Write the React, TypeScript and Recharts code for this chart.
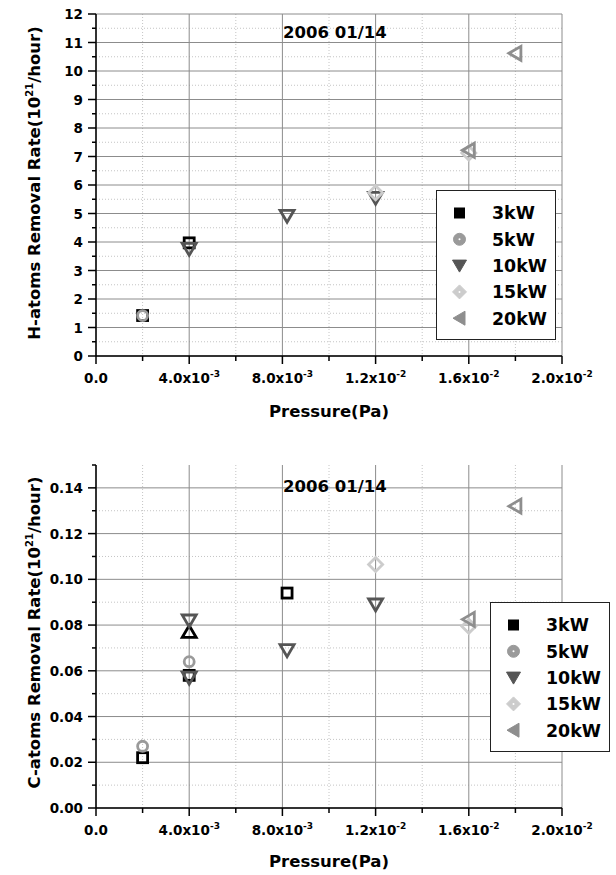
import React from 'react';
import { ScatterChart, Scatter, XAxis, YAxis, CartesianGrid, Legend } from 'recharts';

const FONT = '"DejaVu Sans", "Liberation Sans", sans-serif';

// pressure axis (Pa)
const xTicks = [0, 0.002, 0.004, 0.006, 0.008, 0.01, 0.012, 0.014, 0.016, 0.018, 0.02];
const xMajor = [0, 0.004, 0.008, 0.012, 0.016, 0.02];
const xMinor = [0.002, 0.006, 0.01, 0.014, 0.018];
const xTickMantissa = ['0.0', '4.0x10', '8.0x10', '1.2x10', '1.6x10', '2.0x10'];
const xTickExponent = ['', '-3', '-3', '-2', '-2', '-2'];

// H-atoms panel axis
const hYTicks = [0, 0.5, 1, 1.5, 2, 2.5, 3, 3.5, 4, 4.5, 5, 5.5, 6, 6.5, 7, 7.5, 8, 8.5, 9, 9.5, 10, 10.5, 11, 11.5, 12];
const hYMajor = [0, 1, 2, 3, 4, 5, 6, 7, 8, 9, 10, 11, 12];
const hYMinor = [0.5, 1.5, 2.5, 3.5, 4.5, 5.5, 6.5, 7.5, 8.5, 9.5, 10.5, 11.5];
const hYLabels = ['0', '1', '2', '3', '4', '5', '6', '7', '8', '9', '10', '11', '12'];

// C-atoms panel axis
const cYTicks = [0, 0.01, 0.02, 0.03, 0.04, 0.05, 0.06, 0.07, 0.08, 0.09, 0.1, 0.11, 0.12, 0.13, 0.14, 0.15];
const cYMajor = [0, 0.02, 0.04, 0.06, 0.08, 0.1, 0.12, 0.14];
const cYMinor = [0.01, 0.03, 0.05, 0.07, 0.09, 0.11, 0.13];
const cYLabels = ['0.00', '0.02', '0.04', '0.06', '0.08', '0.10', '0.12', '0.14'];

const powers = ['3kW', '5kW', '10kW', '15kW', '20kW'];
const colors = ['#000000', '#9a9a9a', '#555555', '#cccccc', '#8e8e8e'];
const shapes = ['square', 'circle', 'down', 'diamond', 'left'];

// H-atoms removal rate (10^21/hour)
const h3kWP = [0.002, 0.004];
const h3kWR = [1.42, 3.97];
const h5kWP = [0.002];
const h5kWR = [1.42];
const h10kWP = [0.004, 0.0082, 0.012];
const h10kWR = [3.76, 4.92, 5.55];
const h15kWP = [0.012, 0.016];
const h15kWR = [5.73, 7.12];
const h20kWP = [0.016, 0.018];
const h20kWR = [7.22, 10.62];

// C-atoms removal rate (10^21/hour)
const c3kWP = [0.002, 0.004, 0.0082];
const c3kWR = [0.022, 0.058, 0.094];
const c3kWExtraP = [0.004];
const c3kWExtraR = [0.077];
const c5kWP = [0.002, 0.004];
const c5kWR = [0.027, 0.064];
const c10kWP = [0.004, 0.004, 0.0082, 0.012];
const c10kWR = [0.082, 0.057, 0.069, 0.089];
const c15kWP = [0.012, 0.016];
const c15kWR = [0.1065, 0.0795];
const c20kWP = [0.016, 0.018];
const c20kWR = [0.0825, 0.132];

const pts = (p: number[], r: number[]) => p.map((x, i) => ({ x, y: r[i] }));

const hSeries = [
  { idx: 0, data: pts(h3kWP, h3kWR) },
  { idx: 1, data: pts(h5kWP, h5kWR) },
  { idx: 2, data: pts(h10kWP, h10kWR) },
  { idx: 3, data: pts(h15kWP, h15kWR) },
  { idx: 4, data: pts(h20kWP, h20kWR) },
];

const cSeries = [
  { idx: 0, data: pts(c3kWP, c3kWR) },
  { idx: 0, data: pts(c3kWExtraP, c3kWExtraR), shape: 'up' },
  { idx: 1, data: pts(c5kWP, c5kWR) },
  { idx: 2, data: pts(c10kWP, c10kWR) },
  { idx: 3, data: pts(c15kWP, c15kWR) },
  { idx: 4, data: pts(c20kWP, c20kWR) },
];

const near = (a: number, b: number) => Math.abs(a - b) < 1e-9;

function Marker({ kind, cx, cy, color, filled }: any) {
  const common = {
    stroke: color,
    strokeWidth: filled ? 1 : 2.8,
    fill: filled ? color : 'none',
    strokeLinejoin: 'miter' as const,
  };
  let el;
  if (kind === 'square') el = <rect x={cx - 5} y={cy - 5} width={10} height={10} {...common} />;
  else if (kind === 'circle') el = <circle cx={cx} cy={cy} r={filled ? 6 : 5} {...common} />;
  else if (kind === 'down')
    el = <polygon points={`${cx - 7},${cy - 5.5} ${cx + 7},${cy - 5.5} ${cx},${cy + 6.5}`} {...common} />;
  else if (kind === 'up')
    el = <polygon points={`${cx - 7},${cy + 5.5} ${cx + 7},${cy + 5.5} ${cx},${cy - 6.5}`} {...common} />;
  else if (kind === 'diamond')
    el = <polygon points={`${cx},${cy - 7} ${cx + 7},${cy} ${cx},${cy + 7} ${cx - 7},${cy}`} {...common} />;
  else el = <polygon points={`${cx - 6.5},${cy} ${cx + 5.5},${cy - 7} ${cx + 5.5},${cy + 7}`} {...common} />;
  return (
    <g>
      {el}
      {filled && (kind === 'circle' || kind === 'diamond') && <circle cx={cx} cy={cy} r={1} fill="#fff" />}
    </g>
  );
}

const textStyle = { fontFamily: FONT, fontWeight: 'bold' as const, fill: '#000' };

const BottomTick = (props: any) => {
  const { x, y, payload } = props;
  const i = xMajor.findIndex((m) => near(m, payload.value));
  const major = i >= 0;
  return (
    <g>
      <line x1={x} x2={x} y1={y} y2={y + (major ? 8 : 5)} stroke="#000" strokeWidth={1.5} />
      {major && (
        <text x={x} y={y + 27} textAnchor="middle" fontSize={13.5} {...textStyle}>
          {xTickMantissa[i]}
          {xTickExponent[i] && (
            <tspan dy={-6} fontSize={9}>
              {xTickExponent[i]}
            </tspan>
          )}
        </text>
      )}
    </g>
  );
};

const TopTick = (props: any) => {
  const { x, y, payload } = props;
  const major = xMajor.some((m) => near(m, payload.value));
  return <line x1={x} x2={x} y1={y} y2={y + (major ? 8 : 4)} stroke="#000" strokeWidth={1.5} />;
};

const makeLeftTick = (major: number[], labels: string[]) => (props: any) => {
  const { x, y, payload } = props;
  const i = major.findIndex((m) => near(m, payload.value));
  const isMajor = i >= 0;
  return (
    <g>
      <line x1={x - (isMajor ? 8 : 4)} x2={x} y1={y} y2={y} stroke="#000" strokeWidth={1.5} />
      {isMajor && (
        <text x={x - 13} y={y + 5} textAnchor="end" fontSize={13.5} {...textStyle}>
          {labels[i]}
        </text>
      )}
    </g>
  );
};

const makeRightTick = (major: number[]) => (props: any) => {
  const { x, y, payload } = props;
  const isMajor = major.some((m) => near(m, payload.value));
  return <line x1={x - (isMajor ? 8 : 4)} x2={x} y1={y} y2={y} stroke="#000" strokeWidth={1.5} />;
};

function LegendBox() {
  return (
    <svg width={120} height={150} style={{ display: 'block' }}>
      <rect x={0.5} y={0.5} width={119} height={149} fill="#fff" stroke="#222" strokeWidth={1} />
      {powers.map((p, i) => {
        const cy = 23 + i * 26.3;
        return (
          <g key={p}>
            <Marker kind={shapes[i]} cx={23.5} cy={cy} color={colors[i]} filled />
            <text x={56} y={cy + 6.3} fontSize={17.4} {...textStyle}>
              {p}
            </text>
          </g>
        );
      })}
    </svg>
  );
}

interface PanelProps {
  top: number;
  height: number;
  plotTop: number;
  plotBottom: number;
  yDomain: [number, number];
  yTicks: number[];
  yMajor: number[];
  yMinor: number[];
  yLabels: string[];
  yTitle: string;
  series: { idx: number; data: { x: number; y: number }[]; shape?: string }[];
  titleOffset: number;
  xTitleOffset: number;
  yTitleShift: number;
  legendLeft: number;
  legendTop: number;
}

function Panel(p: PanelProps) {
  const axisLine = { stroke: '#000', strokeWidth: 1.5 };
  return (
    <div style={{ position: 'absolute', left: 0, top: p.top }}>
      <ScatterChart width={616} height={p.height} margin={{ top: p.plotTop, right: 54, bottom: 0, left: 0 }}>
        <CartesianGrid
          horizontalValues={p.yMinor}
          verticalValues={xMinor}
          stroke="#c4c4c4"
          strokeDasharray="1 2"
        />
        <CartesianGrid horizontalValues={p.yMajor} verticalValues={xMajor} stroke="#8c8c8c" />
        <XAxis
          dataKey="x"
          type="number"
          domain={[0, 0.02]}
          ticks={xTicks}
          interval={0}
          height={p.height - p.plotBottom}
          tickSize={0}
          tickMargin={0}
          tickLine={false}
          tick={BottomTick}
          axisLine={axisLine}
          label={{
            content: (lp: any) => {
              const vb = lp.viewBox;
              return (
                <text x={vb.x + vb.width / 2} y={vb.y + p.xTitleOffset} textAnchor="middle" fontSize={16.5} {...textStyle}>
                  Pressure(Pa)
                </text>
              );
            },
          }}
        />
        <XAxis
          xAxisId="top"
          dataKey="x"
          orientation="top"
          type="number"
          domain={[0, 0.02]}
          ticks={xTicks}
          interval={0}
          height={0}
          tickSize={0}
          tickMargin={0}
          tickLine={false}
          tick={TopTick}
          axisLine={axisLine}
        />
        <YAxis
          dataKey="y"
          type="number"
          domain={p.yDomain}
          ticks={p.yTicks}
          interval={0}
          width={96}
          tickSize={0}
          tickMargin={0}
          tickLine={false}
          tick={makeLeftTick(p.yMajor, p.yLabels)}
          axisLine={axisLine}
          label={{
            content: (lp: any) => {
              const vb = lp.viewBox;
              const cx = 40;
              const cy = vb.y + vb.height / 2 + p.yTitleShift;
              return (
                <g>
                  <text
                    x={cx}
                    y={cy}
                    transform={`rotate(-90 ${cx} ${cy})`}
                    textAnchor="middle"
                    fontSize={16.5}
                    {...textStyle}
                  >
                    {p.yTitle}
                    <tspan dy={-7} fontSize={10}>
                      21
                    </tspan>
                    <tspan dy={7}>/hour)</tspan>
                  </text>
                  <text x={vb.x + vb.width + 187} y={vb.y + p.titleOffset} fontSize={16.5} {...textStyle}>
                    2006 01/14
                  </text>
                </g>
              );
            },
          }}
        />
        <YAxis
          yAxisId="right"
          dataKey="y"
          orientation="right"
          type="number"
          domain={p.yDomain}
          ticks={p.yTicks}
          interval={0}
          width={0}
          tickSize={0}
          tickMargin={0}
          tickLine={false}
          tick={makeRightTick(p.yMajor)}
          axisLine={axisLine}
        />
        {p.series.map((s, k) => (
          <Scatter
            key={k}
            name={powers[s.idx]}
            data={s.data}
            fill={colors[s.idx]}
            isAnimationActive={false}
            shape={(sp: any) => (
              <Marker kind={s.shape || shapes[s.idx]} cx={sp.cx} cy={sp.cy} color={colors[s.idx]} />
            )}
          />
        ))}
        <Legend
          layout="horizontal"
          verticalAlign="middle"
          align="center"
          content={() => <LegendBox />}
          wrapperStyle={{ left: p.legendLeft, top: p.legendTop, width: 120, height: 150 }}
        />
      </ScatterChart>
    </div>
  );
}

export default function App() {
  return (
    <div style={{ position: 'absolute', left: 0, top: 0, width: 616, height: 875, background: '#fff' }}>
      <Panel
        top={0}
        height={430}
        plotTop={14}
        plotBottom={356}
        yDomain={[0, 12]}
        yTicks={hYTicks}
        yMajor={hYMajor}
        yMinor={hYMinor}
        yLabels={hYLabels}
        yTitle="H-atoms Removal Rate(10"
        series={hSeries}
        titleOffset={23.5}
        xTitleOffset={61}
        yTitleShift={-2}
        legendLeft={436}
        legendTop={190}
      />
      <Panel
        top={430}
        height={445}
        plotTop={35}
        plotBottom={378}
        yDomain={[0, 0.15]}
        yTicks={cYTicks}
        yMajor={cYMajor}
        yMinor={cYMinor}
        yLabels={cYLabels}
        yTitle="C-atoms Removal Rate(10"
        series={cSeries}
        titleOffset={27}
        xTitleOffset={59}
        yTitleShift={-4}
        legendLeft={490}
        legendTop={172}
      />
    </div>
  );
}
